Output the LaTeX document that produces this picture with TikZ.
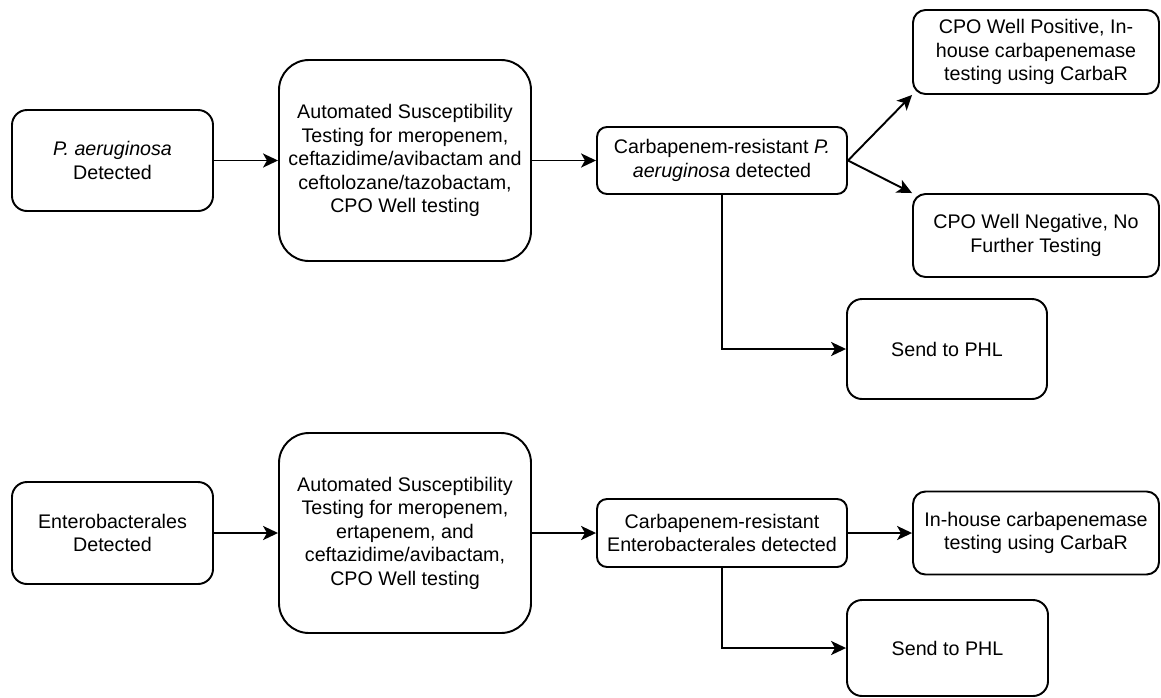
\documentclass[tikz,border=0pt]{standalone}
\usepackage{fontspec}
\setmainfont{Liberation Sans}
\usepackage{tikz}
\usetikzlibrary{arrows.meta, positioning, calc}
\definecolor{primaryColor}{RGB}{0,0,0}
\tikzstyle{process} = [rectangle, rounded corners=0.3cm, draw=primaryColor, line width=1.1pt, align=center, text=primaryColor, inner sep=0pt, font=\fontsize{11.2}{13.4}\selectfont]
\tikzstyle{arrow} = [line width=1.1pt, -{Stealth[length=8.5pt, width=8pt, inset=2.2pt]}, primaryColor]

\begin{document}
\begin{tikzpicture}
            \useasboundingbox (0, 0) rectangle (23.22, -13.94);

            % P. aeruginosa branch
            \node[process, minimum width=4.02cm, minimum height=2.02cm] (paeru) at (2.25, -3.21) {\textit{P. aeruginosa}\\Detected};
            \node[process, minimum width=5.04cm, minimum height=4.02cm, rounded corners=0.6cm] (pastest) at (8.1, -3.21) {Automated Susceptibility\\Testing for meropenem,\\ceftazidime/avibactam and\\ceftolozane/tazobactam,\\CPO Well testing};
            \node[process, minimum width=5.0cm, minimum height=1.34cm, rounded corners=0.2cm] (parsist) at (14.44, -3.21) {Carbapenem-resistant \textit{P.}\\\textit{aeruginosa} detected};
            \node[process, minimum width=4.92cm, minimum height=1.68cm, rounded corners=0.25cm] (papos) at (20.72, -1.04) {CPO Well Positive, In-\\house carbapenemase\\testing using CarbaR};
            \node[process, minimum width=4.92cm, minimum height=1.66cm, rounded corners=0.25cm] (paneg) at (20.72, -4.71) {CPO Well Negative, No\\Further Testing};
            \node[process, minimum width=4.0cm, minimum height=2.0cm] (paphl) at (18.94, -6.98) {Send to PHL};

            % Enterobacterales branch
            \node[process, minimum width=4.02cm, minimum height=2.04cm] (entero) at (2.25, -10.66) {Enterobacterales\\Detected};
            \node[process, minimum width=5.04cm, minimum height=4.0cm, rounded corners=0.6cm] (entest) at (8.1, -10.66) {Automated Susceptibility\\Testing for meropenem,\\ertapenem, and\\ceftazidime/avibactam,\\CPO Well testing};
            \node[process, minimum width=5.0cm, minimum height=1.36cm, rounded corners=0.2cm] (enrsist) at (14.44, -10.66) {Carbapenem-resistant\\Enterobacterales detected};
            \node[process, minimum width=4.92cm, minimum height=1.66cm, rounded corners=0.25cm] (encarba) at (20.72, -10.66) {In-house carbapenemase\\testing using CarbaR};
            \node[process, minimum width=4.02cm, minimum height=1.92cm] (enphl) at (18.95, -12.96) {Send to PHL};

            % Arrows
            \draw[arrow] (paeru) -- (pastest);
            \draw[arrow] (pastest) -- (parsist);
            \draw[arrow] (parsist.east) -- (papos.south west);
            \draw[arrow] (parsist.east) -- (paneg.north west);
            \draw[arrow] (parsist.south) |- (paphl.west);

            \draw[arrow] (entero) -- (entest);
            \draw[arrow] (entest) -- (enrsist);
            \draw[arrow] (enrsist) -- (encarba);
            \draw[arrow] (enrsist.south) |- (enphl.west);

        \end{tikzpicture}
\end{document}
